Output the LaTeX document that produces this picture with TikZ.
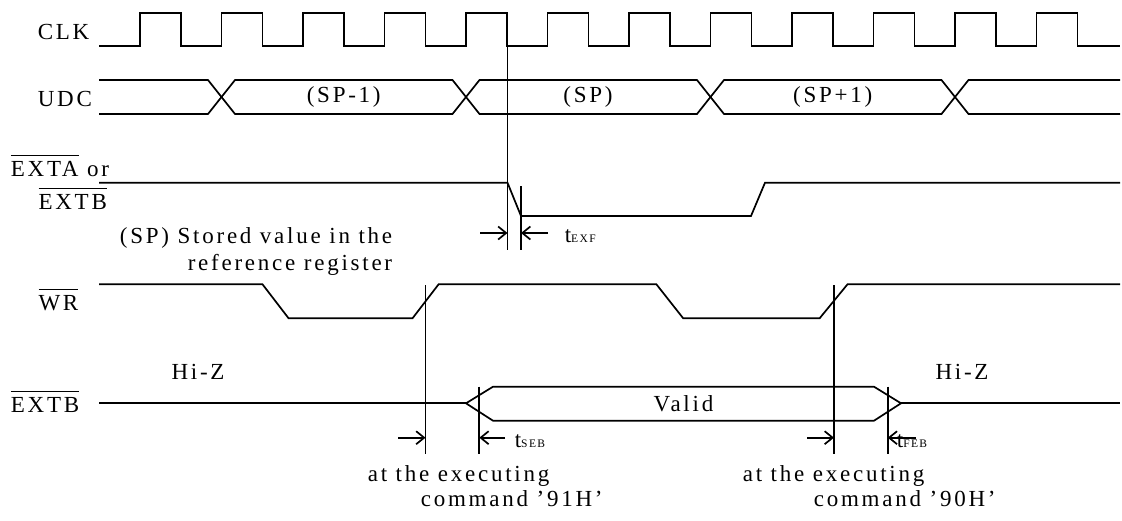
\documentclass[tikz,border=0pt]{standalone}
\usepackage{fontspec}
\setmainfont[LetterSpace=12]{Liberation Serif}
\usepackage{tikz}
\usetikzlibrary{arrows.meta}
\usepackage{xcolor}

\newcommand\ovl[1]{$\overline{\mbox{\rule{0pt}{0.85em}#1}}$}
\newcommand\sub[1]{{\fontsize{11.5}{11.5}\selectfont #1}}

\begin{document}
\begin{tikzpicture}[x=1pt,y=-1pt,line width=1.7pt,
    font=\fontsize{23}{27}\selectfont,
    every node/.style={inner sep=0pt},
    >={Straight Barb[length=8pt,width=13pt]}]
\useasboundingbox (0,0) rectangle (1122,520);

% CLK
\node[anchor=base west] (clk) at (37,39.5) {CLK};
\draw (99,46) -| (140,13) -| (181,46) -| (221.5,13) -| (262.5,46)
      -| (303,13) -| (344,46) -| (384.5,13) -| (425.5,46)
      -| (466,13) -| (507,46) -| (547.5,13) -| (588.5,46)
      -| (629,13) -| (670,46) -| (710.5,13) -| (751.5,46)
      -| (792,13) -| (833,46) -| (873.5,13) -| (914.5,46)
      -| (955,13) -| (996,46) -| (1036.5,13) -| (1077.5,46) -- (1120,46);

% UDC
\node[anchor=base west] (udc) at (37,106.5) {UDC};
\draw (99,80) -- (208,80) -- (235,114) -- (452.5,114) -- (479.5,80) -- (697,80)
      -- (724,114) -- (941.5,114) -- (968.5,80) -- (1120,80);
\draw (99,114) -- (208,114) -- (235,80) -- (452.5,80) -- (479.5,114) -- (697,114)
      -- (724,80) -- (941.5,80) -- (968.5,114) -- (1120,114);
\node (spm) at (343.75,97) {(SP-1)};
\node (sp) at (588,97) {(SP)};
\node (spp) at (832.75,97) {(SP+1)};

% EXTA or EXTB
\node[anchor=base west] (exta) at (10,176) {\ovl{EXTA} or};
\node[anchor=base west] (extb) at (37.7,209.5) {\ovl{EXTB}};
\draw (99,182.7) -- (507.5,182.7) -- (521,216) -- (751,216) -- (765,182.7) -- (1120,182.7);

% t_EXF
\draw (507.5,13) -- (507.5,250);
\draw (521,186) -- (521,250);
\draw[->] (480,233) -- (507.5,233);
\draw[->] (548,233) -- (521,233);
\node[anchor=base west] (texf) at (564,242) {t\sub{EXF}};

% stored value
\node[anchor=base east] (spone) at (393,243) {(SP) Stored value in the};
\node[anchor=base east] (sptwo) at (393,270) {reference register};

% WR
\node[anchor=base west] (wr) at (37.7,310) {\ovl{WR}};
\draw (99,284.3) -- (262.5,284.3) -- (288.6,318.3) -- (412.5,318.3) -- (438.6,284.3)
      -- (656.4,284.3) -- (683.2,318.3) -- (819.6,318.3) -- (847.5,284.3) -- (1120,284.3);
\draw (425.5,285) -- (425.5,454);
\draw (834,285) -- (834,454);

% EXTB output
\node[anchor=base west] (extbb) at (10,412.5) {\ovl{EXTB}};
\node (hizl) at (198,372) {Hi-Z};
\node (hizr) at (962,372) {Hi-Z};
\draw (99,403.3) -- (466,403.3);
\draw (466,403.3) -- (493,386.7) -- (874,386.7) -- (901,403.3)
      -- (874,420.7) -- (493,420.7) -- cycle;
\draw (901,403.3) -- (1120,403.3);
\node (valid) at (683.5,403.3) {Valid};

% t_SEB, t_FEB
\draw (479.3,386.7) -- (479.3,454);
\draw (887.7,386.7) -- (887.7,454);
\draw[->] (398,437.7) -- (425.5,437.7);
\draw[->] (505,437.7) -- (479.3,437.7);
\draw[->] (807,437.7) -- (834,437.7);
\draw[->] (915.7,437.7) -- (887.7,437.7);
\node[anchor=base west] (tseb) at (514,447) {t\sub{SEB}};
\node[anchor=base west] (tfeb) at (896,447) {t\sub{FEB}};

% commands
\node[anchor=base west] (exone) at (367,481) {at the executing};
\node[anchor=base west] (cmdone) at (420,506) {command ’91H’};
\node[anchor=base west] (extwo) at (742,481) {at the executing};
\node[anchor=base west] (cmdtwo) at (813,506) {command ’90H’};
\end{tikzpicture}
\end{document}
